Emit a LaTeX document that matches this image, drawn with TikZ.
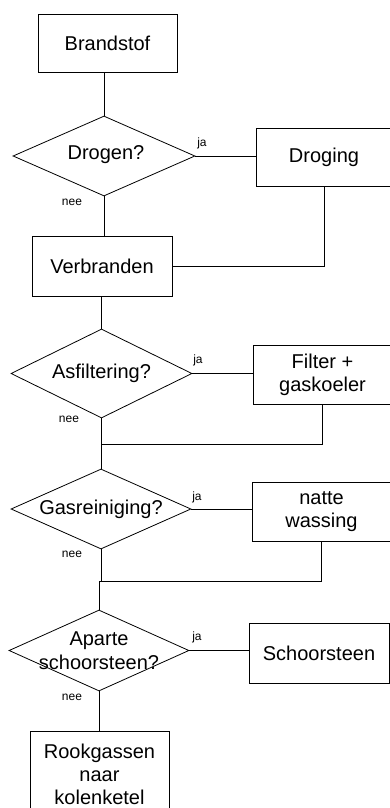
\documentclass[tikz,border=0pt]{standalone}
\usepackage{fontspec}
\setmainfont{Liberation Sans}
\usetikzlibrary{shapes.geometric}
\begin{document}
\begin{tikzpicture}[x=1pt,y=1pt,
  box/.style={draw,line width=0.8pt,rectangle,inner sep=0pt,align=center,font=\fontsize{20}{23}\selectfont},
  dia/.style={draw,line width=0.8pt,diamond,inner sep=0pt},
  dtext/.style={align=center,font=\fontsize{20}{24}\selectfont,inner sep=0pt},
  lbl/.style={font=\fontsize{12}{14}\selectfont,inner sep=0pt},
  conn/.style={line width=0.8pt}]
\useasboundingbox (0,0) rectangle (390,-808);
\clip (0,0) rectangle (390,-808);
% nodes
\node[box,minimum width=139,minimum height=58] (brand) at (107.5,-43) {Brandstof};
\node[dia,minimum width=182,minimum height=80] (d1) at (104,-156) {};
\node[dtext] at (106,-155) {Drogen?};
\node[box,minimum width=136,minimum height=58] (drog) at (324,-157) {Droging};
\node[box,minimum width=140,minimum height=60] (verb) at (102,-266) {Verbranden};
\node[dia,minimum width=181,minimum height=89] (d2) at (101.5,-373.5) {};
\node[dtext] at (d2.center) {Asfiltering?};
\node[box,minimum width=139,minimum height=59] (filt) at (322.5,-374.5) {Filter +\\gaskoeler};
\coordinate (m1) at (101,-444);
\node[dia,minimum width=180,minimum height=80] (d3) at (101,-509) {};
\node[dtext] at (d3.center) {Gasreiniging?};
\node[box,minimum width=139,minimum height=59] (nat) at (321.5,-511.5) {natte\\wassing};
\coordinate (m2) at (99,-581);
\node[dia,minimum width=180,minimum height=81] (d4) at (99,-650.5) {};
\node[dtext] at (d4.center) {Aparte\\schoorsteen?};
\node[box,minimum width=140,minimum height=60] (scho) at (319,-653) {Schoorsteen};
\node[box,minimum width=139,minimum height=86] (rook) at (99.5,-774) {Rookgassen\\naar\\kolenketel};
% labels
\node[lbl] (j1) at (202,-143) {ja};
\node[lbl] (n1) at (72,-202) {nee};
\node[lbl] (j2) at (198,-360) {ja};
\node[lbl] (n2) at (69,-419) {nee};
\node[lbl] (j3) at (197,-497) {ja};
\node[lbl] (n3) at (72,-554) {nee};
\node[lbl] (j4) at (197,-637) {ja};
\node[lbl] (n4) at (72,-697) {nee};
% connectors
\draw[conn] (d1.north) -- (d1.north |- brand.south);
\draw[conn] (d1.east) -- (drog.west |- d1.east);
\draw[conn] (d1.south) -- (d1.south |- verb.north);
\draw[conn] (drog.south) |- (verb.east);
\draw[conn] (d2.north) -- (d2.north |- verb.south);
\draw[conn] (d2.east) -- (filt.west |- d2.east);
\draw[conn] (d2.south) -- (d2.south |- m1);
\draw[conn] (m1) -- (d3.north);
\draw[conn] (filt.south) |- (m1);
\draw[conn] (d3.east) -- (nat.west |- d3.east);
\draw[conn] (d3.south) -- (d3.south |- m2);
\draw[conn] (m2) -- (d4.north);
\draw[conn] (nat.south) |- (m2);
\draw[conn] (d4.east) -- (scho.west |- d4.east);
\draw[conn] (d4.south) -- (d4.south |- rook.north);
\end{tikzpicture}
\end{document}
